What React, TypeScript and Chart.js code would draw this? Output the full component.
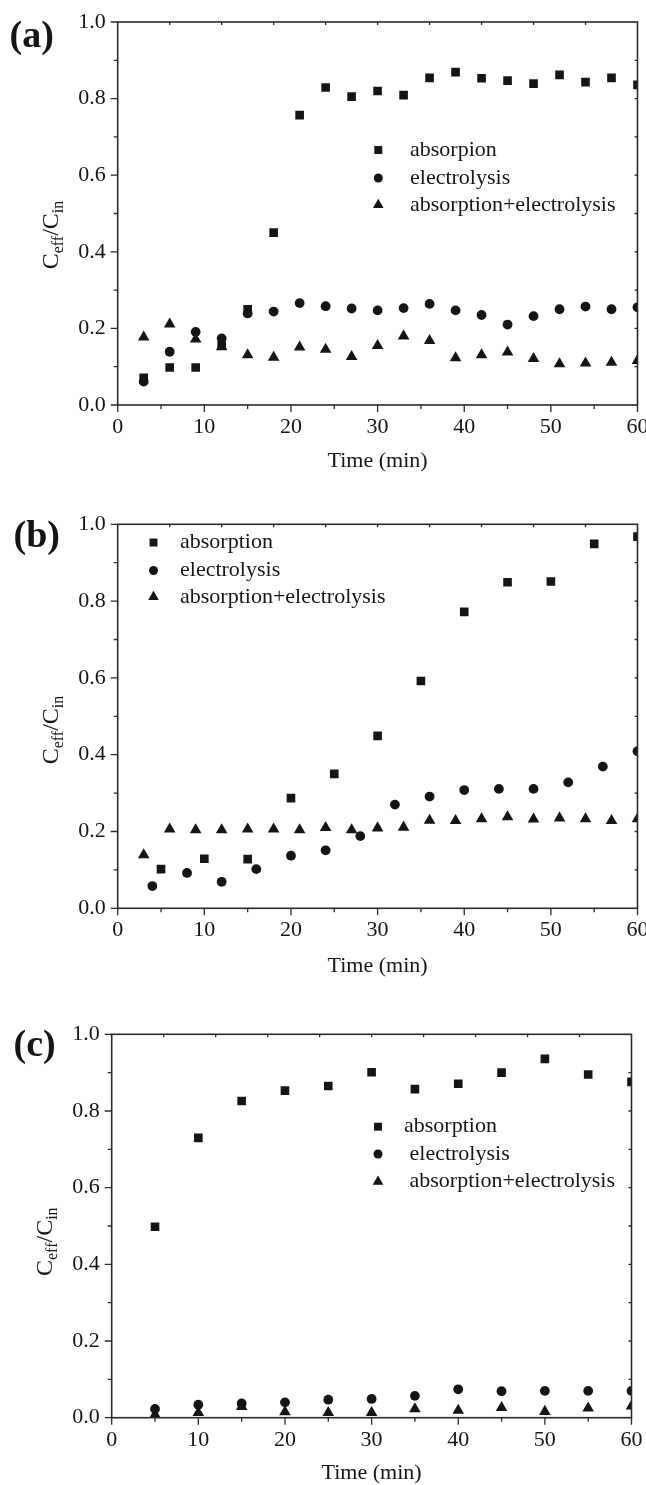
import React, { useEffect, useRef } from "react";
import { Chart, registerables } from "chart.js";

Chart.register(...registerables);

// ---------- data ----------
const xTickValues = [0, 10, 20, 30, 40, 50, 60];
const yTickLabels = ["0.0", "0.2", "0.4", "0.6", "0.8", "1.0"];

// Panel (a)
const aTime = [3, 6, 9, 12, 15, 18, 21, 24, 27, 30, 33, 36, 39, 42, 45, 48, 51, 54, 57, 60];
const aAbsorption = [0.071, 0.098, 0.098, 0.155, 0.25, 0.45, 0.757, 0.829, 0.805, 0.82, 0.809, 0.854, 0.869, 0.853, 0.847, 0.839, 0.862, 0.843, 0.854, 0.836];
const aElectrolysis = [0.061, 0.139, 0.191, 0.174, 0.239, 0.244, 0.266, 0.258, 0.252, 0.247, 0.253, 0.264, 0.247, 0.235, 0.21, 0.232, 0.25, 0.257, 0.25, 0.255];
const aCombined = [0.177, 0.211, 0.172, 0.152, 0.131, 0.124, 0.151, 0.145, 0.126, 0.155, 0.18, 0.168, 0.123, 0.131, 0.138, 0.121, 0.107, 0.109, 0.111, 0.116];
const aLegend = ["absorpion", "electrolysis", "absorption+electrolysis"];

// Panel (b)
const bTimeAbs = [5, 10, 15, 20, 25, 30, 35, 40, 45, 50, 55, 60];
const bAbsorption = [0.102, 0.129, 0.128, 0.287, 0.35, 0.449, 0.592, 0.772, 0.849, 0.851, 0.949, 0.968];
const bTimeElec = [4, 8, 12, 16, 20, 24, 28, 32, 36, 40, 44, 48, 52, 56, 60];
const bElectrolysis = [0.058, 0.092, 0.069, 0.102, 0.137, 0.151, 0.188, 0.27, 0.291, 0.308, 0.311, 0.311, 0.328, 0.369, 0.409];
const bTimeComb = [3, 6, 9, 12, 15, 18, 21, 24, 27, 30, 33, 36, 39, 42, 45, 48, 51, 54, 57, 60];
const bCombined = [0.139, 0.206, 0.204, 0.204, 0.206, 0.206, 0.204, 0.21, 0.204, 0.209, 0.211, 0.229, 0.228, 0.233, 0.238, 0.232, 0.235, 0.233, 0.228, 0.233];
const bLegend = ["absorption", "electrolysis", "absorption+electrolysis"];

// Panel (c)
const cTime = [5, 10, 15, 20, 25, 30, 35, 40, 45, 50, 55, 60];
const cAbsorption = [0.498, 0.73, 0.826, 0.853, 0.865, 0.901, 0.857, 0.871, 0.9, 0.936, 0.895, 0.876];
const cElectrolysis = [0.023, 0.034, 0.037, 0.04, 0.047, 0.049, 0.057, 0.074, 0.069, 0.07, 0.07, 0.07];
const cCombined = [0.008, 0.013, 0.029, 0.015, 0.013, 0.013, 0.023, 0.019, 0.026, 0.016, 0.025, 0.03];
const cLegend = ["absorption", " electrolysis", " absorption+electrolysis"];

// ---------- styling ----------
const SERIF = '"Liberation Serif", "Times New Roman", serif';
const INK = "#151515";
const AXIS = "#2a2a2a";
const pointStyles = ["rect", "circle", "triangle"] as const;
const pointRadii = [6.1, 4.9, 6.7];

const toPoints = (xs: number[], ys: number[]) => xs.map((x, i) => ({ x, y: ys[i] }));

type PanelCfg = {
  label: string;
  labelX: number;
  labelBaseline: number;
  canvasHeight: number;
  padding: { left: number; right: number; top: number; bottom: number };
  series: { xs: number[]; ys: number[] }[];
  legend: string[];
  legendMarkerX: number;
  legendTextX: number;
  legendRows: number[];
  yTitleX: number;
  yTitleCenter: number;
  xTitleY: number;
};

function drawMarker(ctx: CanvasRenderingContext2D, style: string, x: number, y: number, r: number) {
  ctx.beginPath();
  if (style === "rect") {
    const s = Math.SQRT1_2 * r;
    ctx.rect(x - s, y - s, 2 * s, 2 * s);
  } else if (style === "circle") {
    ctx.arc(x, y, r, 0, Math.PI * 2);
  } else {
    const h = r * 1.5;
    const w = r * Math.sqrt(3);
    ctx.moveTo(x, y - r);
    ctx.lineTo(x + w / 2, y - r + h);
    ctx.lineTo(x - w / 2, y - r + h);
    ctx.closePath();
  }
  ctx.fill();
}

const decorPlugin = {
  id: "decor",
  afterDraw(chart: any) {
    const cfg: PanelCfg = chart.options.plugins.decor.cfg;
    const { ctx } = chart;
    const { left, right, top, bottom } = chart.chartArea;
    const xs = chart.scales.x;
    const ys = chart.scales.y;
    ctx.save();

    // frame
    ctx.strokeStyle = AXIS;
    ctx.lineWidth = 1.6;
    ctx.strokeRect(left, top, right - left, bottom - top);

    // ticks
    ctx.lineWidth = 1.3;
    ctx.beginPath();
    for (let v = 0; v <= 60; v += 5) {
      const px = xs.getPixelForValue(v);
      const len = v % 10 === 0 ? 7 : 4;
      ctx.moveTo(px, bottom);
      ctx.lineTo(px, bottom + len);
    }
    for (let v = 6; v < 60; v += 6) {
      const px = xs.getPixelForValue(v);
      ctx.moveTo(px, top);
      ctx.lineTo(px, top + 3);
    }
    for (let i = 0; i <= 10; i++) {
      const py = ys.getPixelForValue(i / 10);
      const len = i % 2 === 0 ? 7 : 4;
      ctx.moveTo(left - len, py);
      ctx.lineTo(left, py);
      if (i > 0 && i < 10) {
        ctx.moveTo(right, py);
        ctx.lineTo(right - 3, py);
      }
    }
    ctx.stroke();

    // panel label
    ctx.fillStyle = INK;
    ctx.font = `bold 38px ${SERIF}`;
    ctx.textAlign = "left";
    ctx.textBaseline = "alphabetic";
    ctx.fillText(cfg.label, cfg.labelX, cfg.labelBaseline);

    // x title
    ctx.font = `22px ${SERIF}`;
    ctx.textAlign = "center";
    ctx.textBaseline = "middle";
    ctx.fillText("Time (min)", (left + right) / 2, cfg.xTitleY);

    // y title with subscripts
    const big = `24px ${SERIF}`;
    const small = `16px ${SERIF}`;
    const parts: [string, string, number][] = [
      ["C", big, 0],
      ["eff", small, 5],
      ["/C", big, 0],
      ["in", small, 5],
    ];
    let total = 0;
    const widths = parts.map(([t, f]) => {
      ctx.font = f;
      const w = ctx.measureText(t).width;
      total += w;
      return w;
    });
    ctx.translate(cfg.yTitleX, cfg.yTitleCenter);
    ctx.rotate(-Math.PI / 2);
    ctx.textAlign = "left";
    ctx.textBaseline = "alphabetic";
    let cx = -total / 2;
    parts.forEach(([t, f, off], i) => {
      ctx.font = f;
      ctx.fillText(t, cx, off);
      cx += widths[i];
    });
    ctx.setTransform(1, 0, 0, 1, 0, 0);

    // legend
    ctx.font = `22px ${SERIF}`;
    ctx.textAlign = "left";
    ctx.textBaseline = "middle";
    cfg.legend.forEach((txt, i) => {
      const ry = cfg.legendRows[i];
      drawMarker(ctx, pointStyles[i], cfg.legendMarkerX, ry, pointRadii[i] * 0.92);
      ctx.fillText(txt, cfg.legendTextX, ry);
    });

    ctx.restore();
  },
};

function Panel({ cfg, top }: { cfg: PanelCfg; top: number }) {
  const ref = useRef<HTMLCanvasElement | null>(null);
  useEffect(() => {
    if (!ref.current) return;
    const datasets = cfg.series.map((s, i) => ({
      label: cfg.legend[i],
      data: toPoints(s.xs, s.ys),
      showLine: false,
      pointStyle: pointStyles[i],
      pointRadius: pointRadii[i],
      pointBorderWidth: 0,
      pointBackgroundColor: INK,
      pointBorderColor: INK,
      order: 3 - i,
    }));
    const chart = new Chart(ref.current, {
      type: "scatter",
      data: { datasets },
      plugins: [decorPlugin],
      options: {
        animation: false,
        responsive: false,
        devicePixelRatio: 1,
        layout: { padding: cfg.padding, autoPadding: false },
        plugins: {
          legend: { display: false },
          tooltip: { enabled: false },
          decor: { cfg },
        } as any,
        scales: {
          x: {
            type: "linear",
            min: 0,
            max: 60,
            afterBuildTicks: (scale: any) => {
              scale.ticks = xTickValues.map((v) => ({ value: v }));
            },
            afterFit: (scale: any) => {
              scale.height = 50;
              scale.paddingLeft = 0;
              scale.paddingRight = 0;
            },
            border: { display: false },
            grid: { display: true, drawOnChartArea: false, tickLength: 7, tickColor: "rgba(0,0,0,0)" },
            ticks: {
              color: INK,
              padding: 2,
              maxRotation: 0,
              autoSkip: false,
              font: { family: SERIF, size: 22 },
              callback: (v: any) => String(v),
            },
          },
          y: {
            type: "linear",
            min: 0,
            max: 1,
            afterBuildTicks: (scale: any) => {
              scale.ticks = yTickLabels.map((t) => ({ value: parseFloat(t) }));
            },
            afterFit: (scale: any) => {
              scale.width = 60;
              scale.paddingTop = 0;
              scale.paddingBottom = 0;
            },
            border: { display: false },
            grid: { display: true, drawOnChartArea: false, tickLength: 7, tickColor: "rgba(0,0,0,0)" },
            ticks: {
              color: INK,
              padding: 5,
              autoSkip: false,
              font: { family: SERIF, size: 22 },
              callback: (v: any) => Number(v).toFixed(1),
            },
          },
        },
      } as any,
    });
    return () => chart.destroy();
  }, [cfg]);
  return (
    <div style={{ position: "absolute", left: 0, top, width: 646, height: cfg.canvasHeight }}>
      <canvas ref={ref} width={646} height={cfg.canvasHeight} style={{ display: "block" }} />
    </div>
  );
}

const panelA: PanelCfg = {
  label: "(a)",
  labelX: 9.5,
  labelBaseline: 46.5,
  canvasHeight: 490,
  padding: { left: 57.7, right: 8.5, top: 22, bottom: 35 },
  series: [
    { xs: aTime, ys: aAbsorption },
    { xs: aTime, ys: aElectrolysis },
    { xs: aTime, ys: aCombined },
  ],
  legend: aLegend,
  legendMarkerX: 378.3,
  legendTextX: 410,
  legendRows: [150, 178, 205],
  yTitleX: 58,
  yTitleCenter: 235,
  xTitleY: 461,
};

const panelB: PanelCfg = {
  label: "(b)",
  labelX: 13.5,
  labelBaseline: 56.5,
  canvasHeight: 505,
  padding: { left: 57.7, right: 8.5, top: 34.3, bottom: 36.7 },
  series: [
    { xs: bTimeAbs, ys: bAbsorption },
    { xs: bTimeElec, ys: bElectrolysis },
    { xs: bTimeComb, ys: bCombined },
  ],
  legend: bLegend,
  legendMarkerX: 153.5,
  legendTextX: 180,
  legendRows: [52.5, 80.5, 107],
  yTitleX: 58,
  yTitleCenter: 240,
  xTitleY: 476,
};

const panelC: PanelCfg = {
  label: "(c)",
  labelX: 13.5,
  labelBaseline: 60.5,
  canvasHeight: 490,
  padding: { left: 51.7, right: 14.5, top: 39.3, bottom: 17.3 },
  series: [
    { xs: cTime, ys: cAbsorption },
    { xs: cTime, ys: cElectrolysis },
    { xs: cTime, ys: cCombined },
  ],
  legend: cLegend,
  legendMarkerX: 378,
  legendTextX: 404,
  legendRows: [131.7, 159, 186.7],
  yTitleX: 52,
  yTitleCenter: 246.7,
  xTitleY: 478,
};

export default function App() {
  return (
    <div style={{ position: "absolute", left: 0, top: 0, width: 646, height: 1485, background: "#fff" }}>
      <Panel cfg={panelA} top={0} />
      <Panel cfg={panelB} top={490} />
      <Panel cfg={panelC} top={995} />
    </div>
  );
}
